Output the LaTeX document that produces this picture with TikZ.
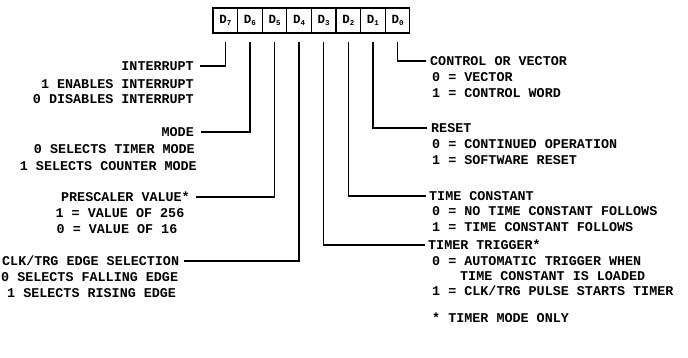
\documentclass[tikz,border=0pt]{standalone}
\usepackage{fontspec}
\setmonofont{Liberation Mono}
\tikzset{
  lbl/.style={font=\ttfamily\bfseries\fontsize{13.4}{13.4}\selectfont, inner sep=0pt, text depth=0pt},
  cell/.style={draw, line width=1.3pt, minimum width=24.6pt, minimum height=25pt, inner sep=0pt, font=\ttfamily\bfseries\fontsize{12.5}{12.5}\selectfont},
  conn/.style={line width=1.4pt}
}
\newcommand{\dlab}[1]{D{\fontsize{7.5}{7.5}\selectfont\raisebox{-2.5pt}{#1}}}
\begin{document}
\begin{tikzpicture}[x=1pt,y=-1pt]
\useasboundingbox (0,0) rectangle (688,358);
% register cells
\node[cell] (d7) at (225.3,20.5) {\dlab{7}};
\node[cell] (d6) at (249.9,20.5) {\dlab{6}};
\node[cell] (d5) at (274.5,20.5) {\dlab{5}};
\node[cell] (d4) at (299.1,20.5) {\dlab{4}};
\node[cell] (d3) at (323.7,20.5) {\dlab{3}};
\node[cell] (d2) at (348.3,20.5) {\dlab{2}};
\node[cell] (d1) at (372.9,20.5) {\dlab{1}};
\node[cell] (d0) at (397.5,20.5) {\dlab{0}};
% left labels
\node[lbl, anchor=east] (intr) at (194,66) {INTERRUPT};
\node[lbl, anchor=east] (intr1) at (194,84) {1 ENABLES INTERRUPT};
\node[lbl, anchor=east] (intr0) at (194,99) {0 DISABLES INTERRUPT};
\node[lbl, anchor=east] (mode) at (194,132) {MODE};
\node[lbl, anchor=east] (mode0) at (195,149) {0 SELECTS TIMER MODE};
\node[lbl, anchor=east] (mode1) at (197,166) {1 SELECTS COUNTER MODE};
\node[lbl, anchor=east] (presc) at (190,197) {PRESCALER VALUE*};
\node[lbl] (presc1) at (120,213) {1 = VALUE OF 256};
\node[lbl] (presc0) at (117,229) {0 = VALUE OF 16};
\node[lbl, anchor=west] (clk) at (2,261) {CLK/TRG EDGE SELECTION};
\node[lbl, anchor=west] (clk0) at (1,277) {0 SELECTS FALLING EDGE};
\node[lbl, anchor=west] (clk1) at (7,293) {1 SELECTS RISING EDGE};
% right labels
\node[lbl, anchor=west] (ctrl) at (430,61) {CONTROL OR VECTOR};
\node[lbl, anchor=west] (ctrl0) at (432,77) {0 = VECTOR};
\node[lbl, anchor=west] (ctrl1) at (432,93) {1 = CONTROL WORD};
\node[lbl, anchor=west] (rst) at (431,128) {RESET};
\node[lbl, anchor=west] (rst0) at (432,144) {0 = CONTINUED OPERATION};
\node[lbl, anchor=west] (rst1) at (432,160) {1 = SOFTWARE RESET};
\node[lbl, anchor=west] (tc) at (429,196) {TIME CONSTANT};
\node[lbl, anchor=west] (tc0) at (432,211) {0 = NO TIME CONSTANT FOLLOWS};
\node[lbl, anchor=west] (tc1) at (432,227) {1 = TIME CONSTANT FOLLOWS};
\node[lbl, anchor=west] (tt) at (428,245) {TIMER TRIGGER*};
\node[lbl, anchor=west] (tt0) at (432,261) {0 = AUTOMATIC TRIGGER WHEN};
\node[lbl, anchor=west] (tt0b) at (460,276) {TIME CONSTANT IS LOADED};
\node[lbl, anchor=west] (tt1) at (432,291) {1 = CLK/TRG PULSE STARTS TIMER};
\node[lbl, anchor=west] (note) at (432,318) {* TIMER MODE ONLY};
% connectors
\draw[conn] ([yshift=-8pt]d7.south) |- ([xshift=6pt]intr.east);
\draw[conn] ([yshift=-8pt]d6.south) |- ([xshift=7pt]mode.east);
\draw[conn] ([yshift=-8pt]d5.south) |- ([xshift=6pt]presc.east);
\draw[conn] ([yshift=-8pt]d4.south) |- ([xshift=5pt]clk.east);
\draw[conn] ([yshift=-8pt]d3.south) |- ([xshift=-3pt]tt.west);
\draw[conn] ([yshift=-8pt]d2.south) |- ([xshift=-3pt]tc.west);
\draw[conn] ([yshift=-8pt]d1.south) |- ([xshift=-4pt]rst.west);
\draw[conn] ([yshift=-8pt]d0.south) |- ([xshift=-4pt]ctrl.west);
\end{tikzpicture}
\end{document}
